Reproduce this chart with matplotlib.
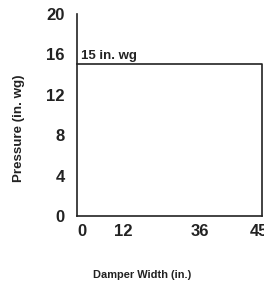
import matplotlib
matplotlib.use('Agg')
import matplotlib.pyplot as plt

plt.rcParams['font.family'] = ['Liberation Sans', 'DejaVu Sans']

# rectangle: damper width vs max pressure
damper_width = [0, 45, 45]
pressure = [15, 15, 0]
pressure_label = '15 in. wg'

y_ticks = [0, 4, 8, 12, 16, 20]
x_tick_labels = ['0', '12', '36', '45']
x_tick_pos = [1.2, 11.2, 29.9, 44.2]

ink = '#222222'

fig = plt.figure(figsize=(2.64, 2.86), dpi=100)
ax = fig.add_axes([77 / 264, 70 / 286, 185 / 264, 202 / 286])

ax.plot(damper_width, pressure, color=ink, lw=1.2, clip_on=False)
ax.text(1.0, 15.5, pressure_label, fontsize=9.5, fontweight='bold',
        color=ink, va='baseline', ha='left')

ax.set_xlim(0, 45)
ax.set_ylim(0, 20)
ax.spines['top'].set_visible(False)
ax.spines['right'].set_visible(False)
for s in ['left', 'bottom']:
    ax.spines[s].set_color(ink)
    ax.spines[s].set_linewidth(1.2)

ax.set_yticks(y_ticks)
ax.set_yticklabels([str(v) for v in y_ticks])
ax.set_xticks(x_tick_pos)
ax.set_xticklabels(x_tick_labels)
ax.tick_params(axis='both', length=0, labelsize=12, colors=ink)
ax.tick_params(axis='y', pad=9)
ax.tick_params(axis='x', pad=6)
for lab in ax.get_xticklabels() + ax.get_yticklabels():
    lab.set_fontweight('bold')

ax.set_xlabel('Damper Width (in.)', fontsize=7.9, fontweight='bold', color=ink)
ax.set_ylabel('Pressure (in. wg)', fontsize=9.6, fontweight='bold', color=ink)
# label placement in pixels, converted to axes coords
ax.xaxis.set_label_coords((142 - 77) / 185, -(275 - 216) / 202)
ax.yaxis.set_label_coords((19 - 77) / 185, (216 - 128) / 202)
ax.xaxis.label.set_va('center')
ax.yaxis.label.set_va('center')

fig.savefig('out.png', dpi=100)
